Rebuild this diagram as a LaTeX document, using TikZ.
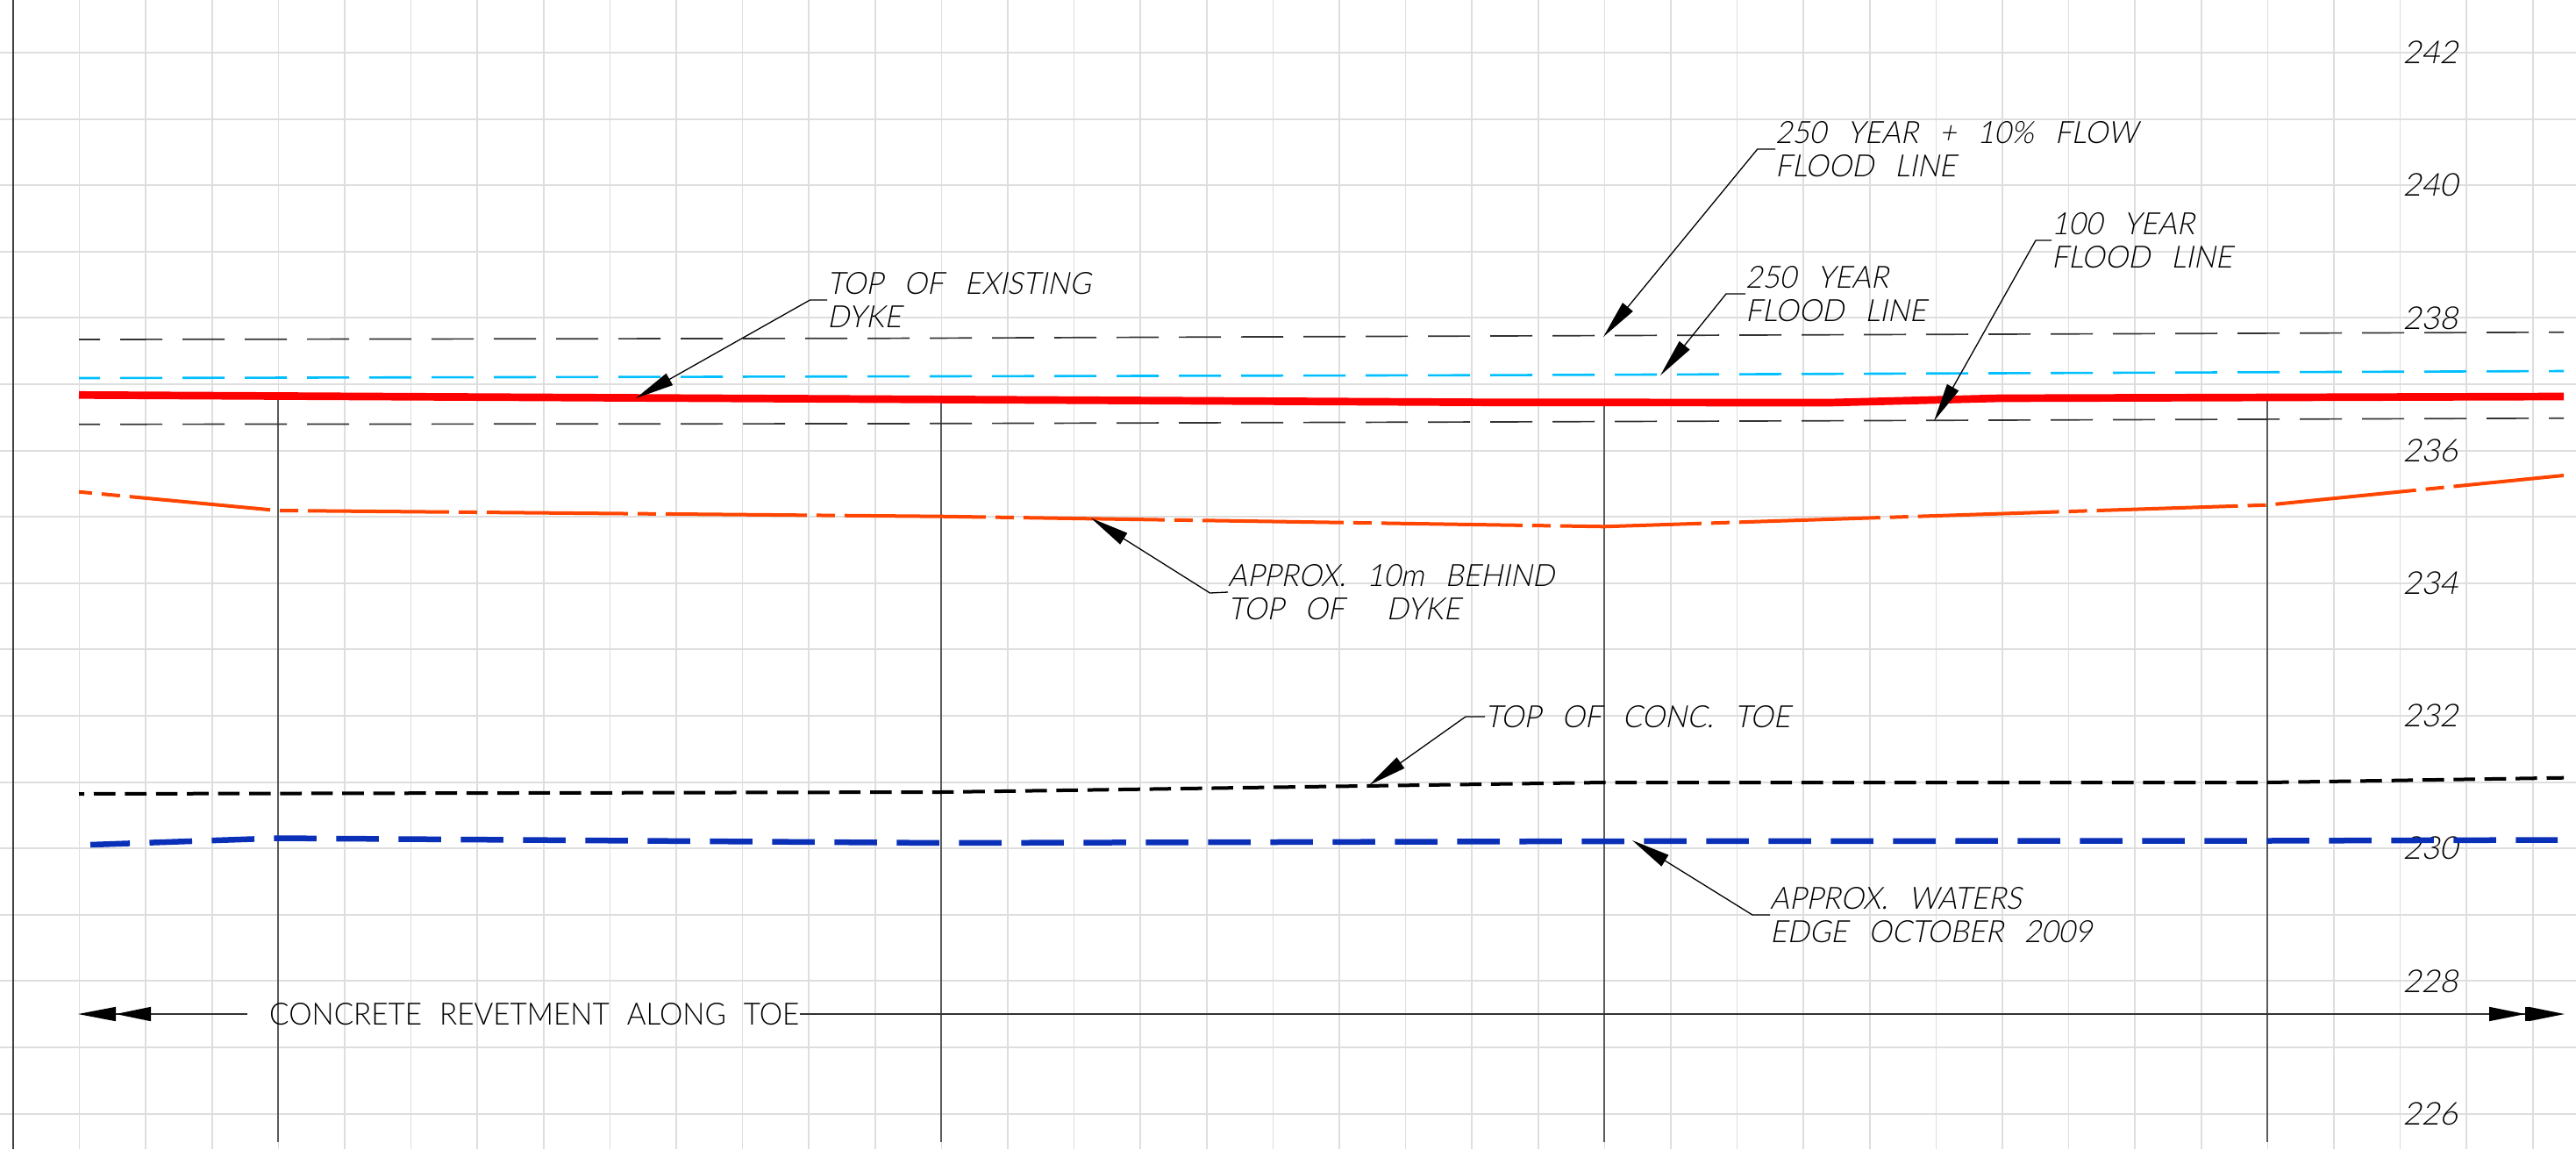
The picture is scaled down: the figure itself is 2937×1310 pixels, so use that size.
\documentclass[tikz,border=0pt]{standalone}
\usepackage{fontspec}
\usetikzlibrary{arrows.meta}
\newfontfamily\cadfam[FakeSlant=0.2,FakeStretch=0.95]{Lato Light}
\newfontfamily\elevfam[FakeSlant=0.2]{Lato Light}
\newfontfamily\revfam[FakeStretch=0.95]{Lato Light}
\definecolor{gridgrey}{HTML}{DEDEDE}
\definecolor{postgrey}{HTML}{5A5A5A}
\definecolor{floodblue}{HTML}{00BFFF}
\definecolor{dykered}{HTML}{FF0000}
\definecolor{behindred}{HTML}{FF4500}
\definecolor{waterblue}{HTML}{0A30B8}
\newcommand{\cadfont}{\fontsize{35}{38}\cadfam\selectfont\spaceskip 24pt\relax}
\newcommand{\revfont}{\fontsize{35}{38}\revfam\selectfont\spaceskip 20pt\relax}
\begin{document}
\begin{tikzpicture}[x=1pt,y=-1pt]

      \tikzset{cadtext/.style={inner sep=0pt, anchor=west, align=left, font=\cadfont},
      	elevtext/.style={inner sep=0pt, font=\fontsize{36}{38}\elevfam\selectfont},
      	leader/.style={line width=1.3pt, -{Triangle[length=44pt,width=15pt]}},
      	post/.style={draw=postgrey, line width=2pt},
      	floodline/.style={line width=1.7pt, draw=black!80, dash pattern=on 48pt off 23pt, dash phase=24pt}}
      \useasboundingbox (0,0) rectangle (2937,1310);
%% Grid
      	\foreach \k in {0,...,16}
      		\draw[gridgrey, line width=2pt] (0,60+75.6*\k) -- (2937,60+75.6*\k);
      	\foreach \k in {0,...,37}
      		\draw[gridgrey, line width=1.6pt] (90.6+75.6*\k,0) -- (90.6+75.6*\k,1310);
%% Elevations
      	\foreach \k/\elev in {0/242,1/240,2/238,3/236,4/234,5/232,6/230,7/228,8/226}
      		\node[elevtext] (elev\elev) at (2771,60+151.2*\k) {\elev};
%Posts
		\draw[draw=black!75, line width=2pt] (14.7,0) -- (14.7,1310);
		\draw[post] (317,452) -- (317,1302);
		\draw[post] (1073,455) -- (1073,1302);
		\draw[post] (1829,458) -- (1829,1302);
		\draw[post] (2585,453) -- (2585,1302);
%Levels
		\draw[floodline] (90,387) -- (1000,385.7) -- (1700,383) -- (2923,378.7);
		\draw[floodline] (90,483.7) -- (1000,483) -- (1700,481) -- (2923,476.7);
		\draw[floodline, draw=floodblue, line width=2.6pt] (90,431) -- (1700,427.7) -- (2923,423);
		\draw[dykered, line width=8.7pt] (90,450.3) -- (1000,455) -- (1700,458.7) -- (2086,459) -- (2280,454) -- (2923,452);
		\draw[behindred, line width=4pt, dash pattern=on 161pt off 11pt on 21pt off 11pt, dash phase=146pt] (90,560.7) -- (306,581) -- (317,582) -- (1073,588.7) -- (1829,600.3) -- (2585,575.7) -- (2923,542);
		\draw[black, line width=4pt, dash pattern=on 24.6pt off 10.8pt, dash phase=18.4pt] (90,905) -- (1073,903) -- (1829,892) -- (2585,892) -- (2923,886.7);
		\draw[waterblue, line width=6.5pt, dash pattern=on 48.6pt off 22.4pt, dash phase=3.5pt] (103,963) -- (317,955.5) -- (1073,961) -- (1829,959) -- (2585,958.5) -- (2916,957.5);
%Labels
		\node[cadtext] (ldyke) at (943,342) {TOP OF EXISTING\\DYKE};
		\node[cadtext] (lflow) at (2024,170) {250 YEAR + 10\% FLOW\\FLOOD LINE};
		\node[cadtext] (lyear) at (1990,335) {250 YEAR\\FLOOD LINE};
		\node[cadtext] (lcent) at (2339,274) {100 YEAR\\FLOOD LINE};
		\node[cadtext] (lbehind) at (1400,675) {APPROX. 10m BEHIND\\TOP OF\ \ DYKE};
		\node[cadtext] (ltoe) at (1693,817) {TOP OF CONC. TOE};
		\node[cadtext] (lwater) at (2018,1043) {APPROX. WATERS\\EDGE OCTOBER 2009};
		\node[cadtext, font=\revfont] (lrevet) at (307,1156) {CONCRETE REVETMENT ALONG TOE};
%Leaders
		\coordinate (edyke) at (923.5,342);
		\coordinate (tdyke) at (725,454);
		\coordinate (eflow) at (2003.7,170);
		\coordinate (tflow) at (1828,384);
		\coordinate (eyear) at (1968,335);
		\coordinate (tyear) at (1893,428);
		\coordinate (ecent) at (2321,274);
		\coordinate (tcent) at (2205,480);
		\coordinate (ebehind) at (1379.5,676);
		\coordinate (tbehind) at (1244,590.7);
		\coordinate (etoe) at (1671,817);
		\coordinate (ttoe) at (1561,895);
		\coordinate (ewater) at (1998,1043);
		\coordinate (twater) at (1861,958);
		\draw[leader] (ldyke.west) -- (edyke) -- (tdyke);
		\draw[leader] (lflow.west) -- (eflow) -- (tflow);
		\draw[leader] (lyear.west) -- (eyear) -- (tyear);
		\draw[leader] (lcent.west) -- (ecent) -- (tcent);
		\draw[leader] (lbehind.west) -- (ebehind) -- (tbehind);
		\draw[leader] (ltoe.west) -- (etoe) -- (ttoe);
		\draw[leader] (lwater.west) -- (ewater) -- (twater);
%Extent of revetment
		\coordinate (rstart) at (282,1156);
		\coordinate (rleft) at (89,1156);
		\coordinate (rright) at (2924,1156);
		\draw[line width=1.6pt, black!80, -{Triangle[length=40pt,width=16pt,black]Triangle[length=43pt,width=16pt,black]}] (rstart) -- (rleft);
		\draw[line width=1.6pt, black!80, -{Triangle[length=41pt,width=16pt,black]Rectangle[length=4pt,width=16pt,black]Triangle[length=41pt,width=16pt,black]}] (lrevet.east) -- (rright);

\end{tikzpicture}
\end{document}
